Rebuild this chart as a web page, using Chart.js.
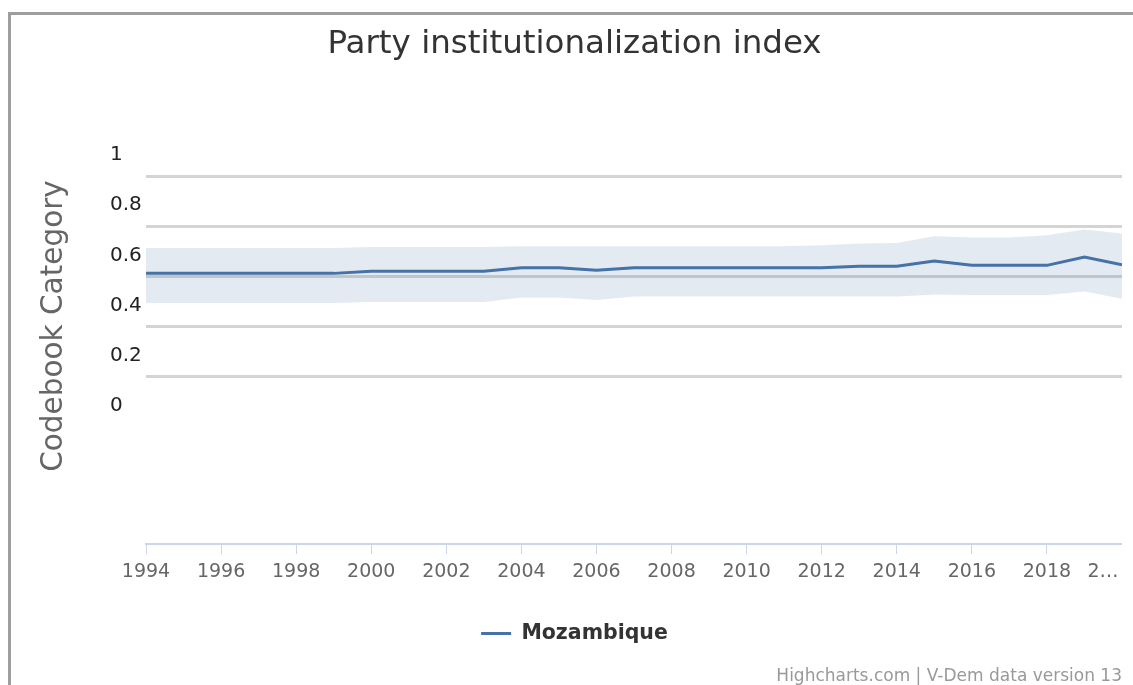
<!DOCTYPE html>
<html>
<head>
<meta charset="utf-8">
<script src="https://cdn.jsdelivr.net/npm/chart.js@4/dist/chart.umd.min.js"></script>
<style>
  html, body { margin: 0; padding: 0; background: #fff; width: 1133px; height: 685px; overflow: hidden; }
  #frame { position: absolute; left: 8px; top: 12px; width: 1200px; height: 800px;
           border-left: 3px solid #9e9e9e; border-top: 3px solid #9e9e9e; z-index: 0; }
  #wrap { position: absolute; left: 27px; top: 0; width: 1095px; height: 685px; z-index: 1; }
</style>
</head>
<body>
<div id="frame"></div>
<div id="wrap"><canvas id="c" width="1095" height="685"></canvas></div>
<script>
// ---- data ----
const years = [1994,1995,1996,1997,1998,1999,2000,2001,2002,2003,2004,2005,2006,2007,2008,2009,2010,2011,2012,2013,2014,2015,2016,2017,2018,2019,2020];
const mozambique = [0.612,0.612,0.612,0.612,0.612,0.612,0.620,0.620,0.620,0.620,0.634,0.634,0.624,0.634,0.634,0.634,0.634,0.634,0.634,0.640,0.640,0.661,0.644,0.644,0.644,0.677,0.646];
const upperBound = [0.713,0.713,0.713,0.713,0.713,0.713,0.717,0.717,0.717,0.717,0.720,0.720,0.720,0.720,0.720,0.720,0.720,0.720,0.724,0.731,0.733,0.760,0.755,0.755,0.764,0.787,0.771];
const lowerBound = [0.494,0.494,0.494,0.494,0.494,0.494,0.498,0.498,0.498,0.498,0.516,0.516,0.506,0.520,0.520,0.520,0.520,0.520,0.520,0.520,0.520,0.528,0.526,0.526,0.526,0.540,0.511];
const xTickValues = [1994,1996,1998,2000,2002,2004,2006,2008,2010,2012,2014,2016,2018,2020];
const xTickLabels = ['1994','1996','1998','2000','2002','2004','2006','2008','2010','2012','2014','2016','2018','2\u2026'];
const yTickValues = [0,0.2,0.4,0.6,0.8,1];
const yTickLabels = ['0','0.2','0.4','0.6','0.8','1'];
const seriesName = 'Mozambique';
const chartTitle = 'Party institutionalization index';
const yTitle = 'Codebook Category';
const credit = 'Highcharts.com | V-Dem data version 13';

const pts = arr => years.map((y, i) => ({x: y, y: arr[i]}));
const FONT = "'DejaVu Sans', sans-serif";

const yTitlePlugin = {
  id: 'yTitlePlugin',
  afterDraw(chart) {
    const ctx = chart.ctx;
    ctx.save();
    ctx.translate(27, 326);
    ctx.rotate(-Math.PI / 2);
    ctx.font = "29.5px 'DejaVu Sans', sans-serif";
    ctx.fillStyle = '#666666';
    ctx.textAlign = 'center';
    ctx.textBaseline = 'middle';
    ctx.fillText(yTitle, 0, 0);
    ctx.restore();
  }
};

new Chart(document.getElementById('c'), {
  type: 'line',
  data: {
    datasets: [
      { label: 'upper', data: pts(upperBound), borderWidth: 0, pointRadius: 0,
        backgroundColor: 'rgba(69,114,167,0.15)', fill: '+1', order: 2, tension: 0 },
      { label: 'lower', data: pts(lowerBound), borderWidth: 0, pointRadius: 0,
        fill: false, order: 3, tension: 0 },
      { label: seriesName, data: pts(mozambique), borderColor: '#4572a7', backgroundColor: '#4572a7',
        borderWidth: 3, pointRadius: 0, fill: false, order: 0, tension: 0 }
    ]
  },
  options: {
    responsive: false,
    animation: false,
    devicePixelRatio: 1,
    layout: { padding: 0 },
    scales: {
      x: {
        type: 'linear', min: 1994, max: 2020,
        afterBuildTicks: s => { s.ticks = xTickValues.map(v => ({value: v})); },
        afterFit: s => { s.height = 70; s.paddingLeft = 0; s.paddingRight = 0; },
        grid: { drawOnChartArea: false, drawTicks: true, tickLength: 10, color: '#ccd6eb', lineWidth: 1 },
        border: { display: true, color: '#ccd6eb', width: 2 },
        ticks: {
          padding: 6.6, color: '#666666', font: { family: FONT, size: 19 }, maxRotation: 0, autoSkip: false,
          callback: (v, i) => i === xTickLabels.length - 1 ? xTickLabels[i] + '\u2003\u2003' : xTickLabels[i]
        }
      },
      y: {
        type: 'linear', min: -0.468, max: 1.1, weight: 0,
        afterBuildTicks: s => { s.ticks = yTickValues.map(v => ({value: v})); },
        afterFit: s => { s.width = 36; s.paddingTop = 0; s.paddingBottom = 0; },
        grid: { drawTicks: false, lineWidth: 3, color: ctx => (ctx.tick && ctx.tick.value === 0) ? 'rgba(0,0,0,0)' : '#d4d4d4' },
        border: { display: false },
        ticks: {
          crossAlign: 'far', labelOffset: -21, color: '#222222', font: { family: FONT, size: 20 },
          callback: (v, i) => yTickLabels[i]
        }
      },
      yt: {
        type: 'linear', position: 'left', min: 0, max: 1, weight: 10, display: true,
        afterFit: s => { s.width = 83; },
        grid: { display: false }, border: { display: false }, ticks: { display: false }
      }
    },
    plugins: {
      title: {
        display: true, text: chartTitle, color: '#333333',
        font: { family: FONT, size: 32.5, weight: 'normal' },
        padding: { top: 25.5, bottom: 86.5 }
      },
      subtitle: {
        display: true, text: credit, position: 'bottom', align: 'end', color: '#999999',
        font: { family: FONT, size: 17, weight: 'normal', lineHeight: 0.8 },
        padding: { top: 16, bottom: 1.7 }
      },
      legend: {
        display: true, position: 'bottom',
        labels: {
          usePointStyle: true, pointStyle: 'line', pointStyleWidth: 30, padding: 9,
          color: '#333333', font: { family: FONT, size: 20.5, weight: 'bold' },
          filter: item => item.datasetIndex === 2
        }
      },
      tooltip: { enabled: false }
    }
  },
  plugins: [yTitlePlugin]
});
</script>
</body>
</html>
